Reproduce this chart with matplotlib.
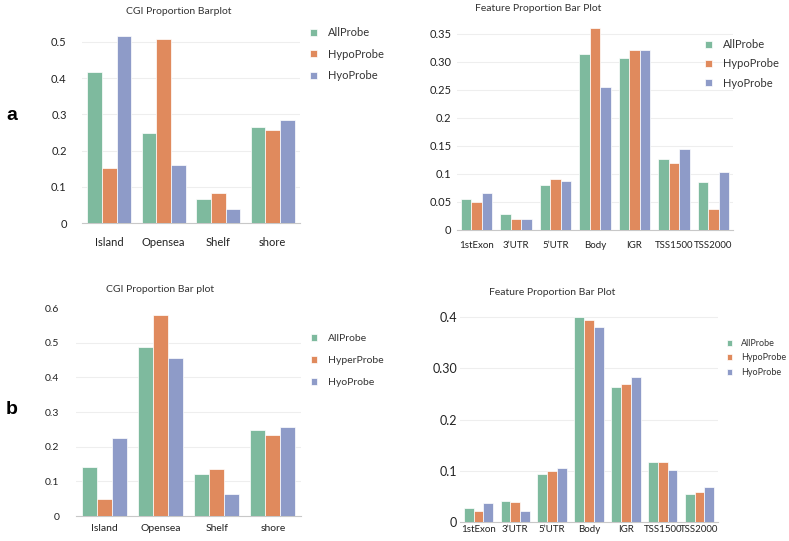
import matplotlib
matplotlib.use("Agg")
import matplotlib.pyplot as plt
import numpy as np

plt.rcParams.update({
    "font.family": ["Lato", "DejaVu Sans"],
    "font.size": 8,
    "axes.spines.top": False,
    "axes.spines.right": False,
    "axes.spines.left": False,
})

GREEN = "#7eba9e"
ORANGE = "#e08a5d"
BLUE = "#8e9bc8"
COLORS = [GREEN, ORANGE, BLUE]

# ---- data -------------------------------------------------------------
cgi_cats = ["Island", "Opensea", "Shelf", "shore"]
feat_cats = ["1stExon", "3\u2019UTR", "5\u2019UTR", "Body", "IGR", "TSS1500", "TSS2000"]

# panel a, CGI
a_cgi_all = [0.418, 0.249, 0.067, 0.265]
a_cgi_hypo = [0.152, 0.508, 0.083, 0.257]
a_cgi_hyo = [0.517, 0.159, 0.039, 0.284]
a_cgi_labels = ["AllProbe", "HypoProbe", "HyoProbe"]

# panel a, feature
a_feat_all = [0.055, 0.029, 0.081, 0.314, 0.307, 0.126, 0.085]
a_feat_hypo = [0.050, 0.019, 0.091, 0.360, 0.321, 0.119, 0.038]
a_feat_hyo = [0.066, 0.020, 0.087, 0.255, 0.321, 0.144, 0.104]
a_feat_labels = ["AllProbe", "HypoProbe", "HyoProbe"]

# panel b, CGI
b_cgi_all = [0.142, 0.488, 0.122, 0.247]
b_cgi_hyper = [0.048, 0.579, 0.135, 0.235]
b_cgi_hyo = [0.224, 0.455, 0.063, 0.256]
b_cgi_labels = ["AllProbe", "HyperProbe", "HyoProbe"]

# panel b, feature
b_feat_all = [0.028, 0.041, 0.094, 0.400, 0.264, 0.118, 0.054]
b_feat_hypo = [0.021, 0.039, 0.100, 0.395, 0.269, 0.118, 0.058]
b_feat_hyo = [0.037, 0.022, 0.106, 0.380, 0.284, 0.102, 0.068]
b_feat_labels = ["AllProbe", "HypoProbe", "HyoProbe"]

W, H = 789, 541


def px_axes(fig, x0, x1, ytop, ybot):
    return fig.add_axes([x0 / W, 1 - ybot / H, (x1 - x0) / W, (ybot - ytop) / H])


def bar_panel(ax, cats, series, labels, width, yticks, yticklabels, ylim,
              title, title_xy, ytick_pad, xtick_pad, tick_fs, xtick_fs,
              legend_xy, legend_spacing, leg_fs):
    x = np.arange(len(cats))
    for i, (vals, lab, col) in enumerate(zip(series, labels, COLORS)):
        ax.bar(x + (i - 1) * width, vals, width, color=col, label=lab,
               edgecolor="white", linewidth=0.5, zorder=3)
    ax.set_xlim(-0.5, len(cats) - 0.5)
    ax.set_ylim(*ylim)
    ax.set_xticks(x)
    ax.set_xticklabels(cats, fontsize=xtick_fs, color="#222222")
    ax.set_yticks(yticks)
    ax.set_yticklabels(yticklabels, fontsize=tick_fs, color="#222222")
    ax.tick_params(axis="both", length=0)
    ax.tick_params(axis="y", pad=ytick_pad)
    ax.tick_params(axis="x", pad=xtick_pad)
    ax.grid(axis="y", color="#eeeeee", linewidth=0.8, zorder=0)
    ax.set_axisbelow(True)
    ax.spines["bottom"].set_color("#c8c8c8")
    ax.text(title_xy[0], title_xy[1], title, transform=ax.transAxes,
            ha="center", va="center", fontsize=7.5, color="#333333")
    leg = ax.legend(loc="upper left", bbox_to_anchor=legend_xy,
                    bbox_transform=ax.figure.transFigure, frameon=False,
                    handlelength=0.6, handleheight=0.6, handletextpad=1.0,
                    labelspacing=legend_spacing, fontsize=leg_fs,
                    borderaxespad=0, borderpad=0)
    for t in leg.get_texts():
        t.set_color("#333333")
    return ax


fig = plt.figure(figsize=(W / 100, H / 100), dpi=100)

ax1 = px_axes(fig, 82, 300, 31, 223)
bar_panel(ax1, cgi_cats, [a_cgi_all, a_cgi_hypo, a_cgi_hyo], a_cgi_labels, 0.27,
          [0, 0.1, 0.2, 0.3, 0.4, 0.5], ["0", "0.1", "0.2", "0.3", "0.4", "0.5"],
          (0, 0.53), "CGI Proportion Barplot", (0.445, 1.099),
          11, 10, 8, 8, (310 / W, 1 - 27 / H), 0.95, 8)

ax2 = px_axes(fig, 457, 733, 28, 230)
bar_panel(ax2, feat_cats, [a_feat_all, a_feat_hypo, a_feat_hyo], a_feat_labels, 0.265,
          [0, 0.05, 0.1, 0.15, 0.2, 0.25, 0.30, 0.35],
          ["0", "0.05", "0.1", "0.15", "0.2", "0.25", "0.30", "0.35"],
          (0, 0.36), "Feature Proportion Bar Plot", (0.293, 1.096),
          4, 8, 8, 7, (705 / W, 1 - 39 / H), 0.75, 8)

ax3 = px_axes(fig, 76, 301, 308, 516)
bar_panel(ax3, cgi_cats, [b_cgi_all, b_cgi_hyper, b_cgi_hyo], b_cgi_labels, 0.267,
          [0, 0.1, 0.2, 0.3, 0.4, 0.5, 0.6],
          ["0", "0.1", "0.2", "0.3", "0.4", "0.5", "0.6"],
          (0, 0.6), "CGI Proportion Bar plot", (0.373, 1.087),
          12, 6, 7.5, 7.5, (311 / W, 1 - 334 / H), 1.25, 7.5)
ax3.yaxis.get_gridlines()[-1].set_visible(False)

ax4 = px_axes(fig, 460, 718, 312, 522)
bar_panel(ax4, feat_cats, [b_feat_all, b_feat_hypo, b_feat_hyo], b_feat_labels, 0.265,
          [0, 0.1, 0.2, 0.30, 0.4], ["0", "0.1", "0.2", "0.30", "0.4"],
          (0, 0.41), "Feature Proportion Bar Plot", (0.357, 1.094),
          2, 2, 9, 7, (727 / W, 1 - 339 / H), 0.6, 6.5)

fig.text(12 / W, 1 - 115 / H, "a", fontsize=14, fontweight="bold",
         ha="center", va="center", family=["Liberation Sans", "DejaVu Sans"])
fig.text(12 / W, 1 - 410 / H, "b", fontsize=14, fontweight="bold",
         ha="center", va="center", family=["Liberation Sans", "DejaVu Sans"])

fig.savefig("out.png", dpi=100)
